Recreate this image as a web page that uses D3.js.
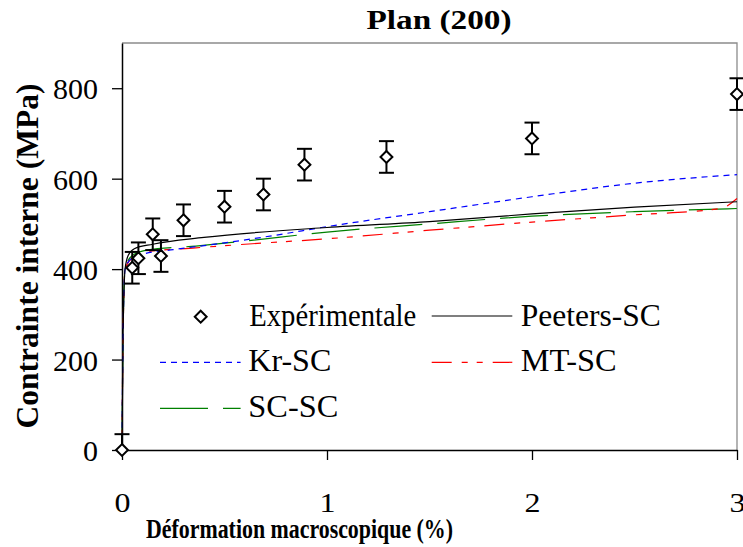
<!DOCTYPE html>
<html>
<head>
<meta charset="utf-8">
<script src="https://cdn.jsdelivr.net/npm/d3@7"></script>
<style>
  body { margin: 0; background: #fff; }
</style>
</head>
<body>
<svg></svg>
<script>
const width = 743,
    height = 547;
const serif = '"Liberation Serif"';

// experimental points (strain %, stress MPa) with error
const expX = [0, 0.05, 0.08, 0.15, 0.19, 0.30, 0.50, 0.69, 0.89, 1.29, 2.0, 3.0];
const expY = [0, 403, 424, 477, 429, 508, 538, 565, 631, 648, 689, 787];
const expErr = [35, 35, 35, 35, 35, 35, 35, 35, 35, 35, 35, 35];

// model curves
const peetersX = [0, 0.005, 0.015, 0.03, 0.06, 0.15, 0.4, 1.0, 1.5, 2.0, 2.5, 3.0];
const peetersY = [0, 250, 400, 430, 445, 455, 470, 492, 505, 522, 537, 549];
const krX = [0, 0.005, 0.015, 0.05, 0.1, 0.25, 0.5, 0.75, 1.0, 1.5, 2.0, 2.5, 3.0];
const krY = [0, 250, 400, 425, 433, 443, 458, 475, 494, 527, 560, 590, 609];
const mtX = [0, 0.005, 0.015, 0.05, 0.12, 0.36, 0.6, 1.0, 1.5, 2.0, 2.5, 2.92, 3.0];
const mtY = [0, 250, 400, 425, 438, 447, 455, 467, 486, 504, 520, 534, 556];
const scX = [0, 0.005, 0.015, 0.05, 0.12, 0.36, 0.6, 1.0, 1.5, 2.0, 2.5, 3.0];
const scY = [0, 250, 400, 430, 442, 451, 462, 482, 500, 517, 527, 534];

const xTicks = [0, 1, 2, 3];
const yTicks = [0, 200, 400, 600, 800];

const svg = d3.select("svg")
    .attr("width", width)
    .attr("height", height)
    .attr("font-family", "Liberation Serif")
    .style("font-family", serif);

const x = d3.scaleLinear().domain([0, 3]).range([122, 737]);
const y = d3.scaleLinear().domain([0, 900]).range([450, 43]);

// frame: gray top/right
svg.append("path")
    .attr("d", `M${x(0)},${y(900)}H${x(3)}V${y(0)}`)
    .attr("fill", "none")
    .attr("stroke", "#8c8c8c")
    .attr("stroke-width", 1.3);

// axes
const yAxis = svg.append("g")
    .attr("transform", `translate(${x(0)},0)`)
    .call(d3.axisLeft(y).tickValues(yTicks).tickSize(10).tickSizeOuter(0).tickFormat(d3.format("d")));
const xAxis = svg.append("g")
    .attr("transform", `translate(0,${y(0)})`)
    .call(d3.axisBottom(x).tickValues(xTicks).tickSize(10).tickSizeOuter(0).tickFormat(d3.format("d")));

[yAxis, xAxis].forEach(g => {
    g.attr("font-family", "Liberation Serif").attr("font-size", null);
    g.select(".domain").attr("stroke", "#000").attr("stroke-width", 1.5);
    g.selectAll(".tick line").attr("stroke", "#000").attr("stroke-width", 1.3);
});
yAxis.selectAll(".tick text")
    .attr("x", -24)
    .attr("dy", "0.35em")
    .attr("font-family", "Liberation Serif")
    .attr("font-size", 30)
    .attr("fill", "#000");
xAxis.selectAll(".tick text")
    .attr("y", 0)
    .attr("dy", 62)
    .attr("font-family", "Liberation Serif")
    .attr("font-size", 27)
    .attr("textLength", 16)
    .attr("lengthAdjust", "spacingAndGlyphs")
    .attr("fill", "#000");

// model lines
const series = [
    { name: "Peeters-SC", xs: peetersX, ys: peetersY, color: "#000000", dash: null },
    { name: "Kr-SC", xs: krX, ys: krY, color: "#0000ff", dash: "6,5" },
    { name: "MT-SC", xs: mtX, ys: mtY, color: "#ff0000", dash: "20,10,6,9,6,10" },
    { name: "SC-SC", xs: scX, ys: scY, color: "#008000", dash: "48,15" }
];

const line = d3.line()
    .x(d => x(d[0]))
    .y(d => y(d[1]))
    .curve(d3.curveMonotoneX);

[series[3], series[2], series[1], series[0]].forEach(s => {
    svg.append("path")
        .datum(s.xs.map((v, i) => [v, s.ys[i]]))
        .attr("d", line)
        .attr("fill", "none")
        .attr("stroke", s.color)
        .attr("stroke-width", 1.2)
        .attr("stroke-dasharray", s.dash);
});

// error bars
const expData = expX.map((v, i) => ({ x: v, y: expY[i], e: expErr[i] }));
const eb = svg.append("g").attr("stroke", "#000").attr("stroke-width", 2);
expData.forEach(d => {
    const lo = Math.max(0, d.y - d.e), hi = d.y + d.e;
    eb.append("line").attr("x1", x(d.x)).attr("x2", x(d.x)).attr("y1", y(lo)).attr("y2", y(hi));
    eb.append("line").attr("x1", x(d.x) - 7.5).attr("x2", x(d.x) + 7.5).attr("y1", y(hi)).attr("y2", y(hi));
    if (lo > 0) {
        eb.append("line").attr("x1", x(d.x) - 7.5).attr("x2", x(d.x) + 7.5).attr("y1", y(lo)).attr("y2", y(lo));
    }
});

const diamond = d3.symbol().type(d3.symbolDiamond2).size(90);
svg.append("g")
    .selectAll("path")
    .data(expData)
    .join("path")
    .attr("transform", d => `translate(${x(d.x)},${y(d.y)})`)
    .attr("d", diamond)
    .attr("fill", "#fff")
    .attr("stroke", "#000")
    .attr("stroke-width", 2);

// legend
const leg = svg.append("g");
leg.append("path")
    .attr("transform", "translate(200.7,316.7)")
    .attr("d", diamond)
    .attr("fill", "#fff")
    .attr("stroke", "#000")
    .attr("stroke-width", 2);

const legendItems = [
    { label: "Expérimentale", lx: null, tx: 249.3, ty: 326, w: 167 },
    { label: "Peeters-SC", s: series[0], lx: 431.7, ly: 316, tx: 520.7, ty: 326, w: 140 },
    { label: "Kr-SC", s: series[1], lx: 160, ly: 362.3, tx: 248.3, ty: 371, w: 83 },
    { label: "MT-SC", s: series[2], lx: 431.7, ly: 362.3, tx: 520.7, ty: 371, w: 96 },
    { label: "SC-SC", s: series[3], lx: 160, ly: 408.3, tx: 248.3, ty: 417, w: 90 }
];
legendItems.forEach(it => {
    if (it.s) {
        leg.append("line")
            .attr("x1", it.lx).attr("x2", it.lx + 80.6)
            .attr("y1", it.ly).attr("y2", it.ly)
            .attr("stroke", it.s.color)
            .attr("stroke-width", 1.2)
            .attr("stroke-dasharray", it.s.dash);
    }
    leg.append("text")
        .attr("x", it.tx)
        .attr("y", it.ty)
        .attr("font-family", "Liberation Serif")
        .attr("font-size", 31)
        .attr("textLength", it.w)
        .attr("lengthAdjust", "spacingAndGlyphs")
        .text(it.label);
});

// title and axis labels
svg.append("text")
    .attr("x", 439).attr("y", 29)
    .attr("text-anchor", "middle")
    .attr("font-family", "Liberation Serif")
    .attr("font-weight", "bold")
    .attr("font-size", 28)
    .attr("textLength", 145)
    .attr("lengthAdjust", "spacingAndGlyphs")
    .text("Plan (200)");

svg.append("text")
    .attr("x", 299.5).attr("y", 538)
    .attr("text-anchor", "middle")
    .attr("font-family", "Liberation Serif")
    .attr("font-weight", "bold")
    .attr("font-size", 27)
    .attr("textLength", 307)
    .attr("lengthAdjust", "spacingAndGlyphs")
    .text("Déformation macroscopique (%)");

svg.append("text")
    .attr("transform", "translate(38,256) rotate(-90)")
    .attr("text-anchor", "middle")
    .attr("font-family", "Liberation Serif")
    .attr("font-weight", "bold")
    .attr("font-size", 32)
    .attr("textLength", 345)
    .attr("lengthAdjust", "spacingAndGlyphs")
    .text("Contrainte interne (MPa)");
</script>
</body>
</html>
